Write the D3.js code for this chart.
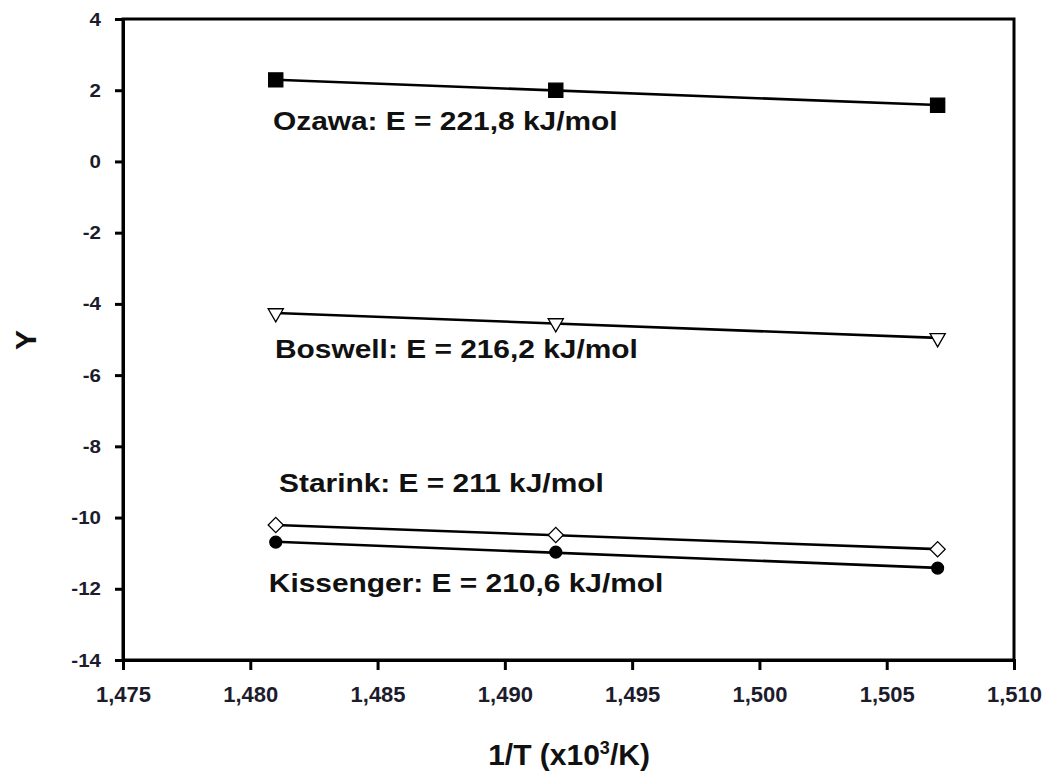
<!DOCTYPE html>
<html><head><meta charset="utf-8">
<script src="https://cdn.jsdelivr.net/npm/d3@7"></script>
<style>body{margin:0;background:#fff}svg{display:block}text{font-family:"Liberation Sans",Arial,sans-serif;font-weight:bold}</style>
</head><body><svg id="c" width="1052" height="776"></svg>
<script>
const xValues = [1.481, 1.492, 1.507];
const ozawa = [2.29, 2.0, 1.58];
const boswell = [-4.26, -4.54, -4.96];
const starink = [-10.21, -10.49, -10.89];
const kissenger = [-10.69, -10.97, -11.42];
const xTicks = [1.475, 1.480, 1.485, 1.490, 1.495, 1.500, 1.505, 1.510];
const yTicks = [4, 2, 0, -2, -4, -6, -8, -10, -12, -14];
const labels = ["Ozawa: E = 221,8 kJ/mol", "Boswell: E = 216,2 kJ/mol", "Starink: E = 211 kJ/mol", "Kissenger: E = 210,6 kJ/mol"];
const labelX = [1.48089, 1.48097, 1.48113, 1.48073];
const labelY = [0.88, -5.52, -9.28, -12.09];

const series = [
  {name: "Ozawa", y: ozawa, marker: "square"},
  {name: "Boswell", y: boswell, marker: "triangle"},
  {name: "Starink", y: starink, marker: "diamond"},
  {name: "Kissenger", y: kissenger, marker: "circle"}
];

const svg = d3.select("#c");
const m = {l: 123, r: 1014, t: 19, b: 660};
const x = d3.scaleLinear().domain([1.475, 1.510]).range([m.l, m.r]);
const y = d3.scaleLinear().domain([-14, 4]).range([m.b, m.t]);
const fmtX = v => d3.format(".3f")(v).replace(".", ",");

svg.append("rect").attr("x", m.l).attr("y", m.t).attr("width", m.r - m.l).attr("height", m.b - m.t)
  .attr("fill", "none").attr("stroke", "#000").attr("stroke-width", 3);

const xa = svg.append("g").attr("transform", `translate(0,${m.b})`)
  .call(d3.axisBottom(x).tickValues(xTicks).tickFormat(fmtX).tickSize(10).tickPadding(16));
const ya = svg.append("g").attr("transform", `translate(${m.l},0)`)
  .call(d3.axisLeft(y).tickValues(yTicks).tickFormat(d => d3.format("d")(d).replace("−", "-")).tickSize(8).tickPadding(14));
[xa, ya].forEach(a => {
  a.select(".domain").attr("stroke-width", 3);
  a.selectAll(".tick line").attr("stroke-width", 3);
  a.selectAll("text").attr("fill", "#1c1c2c").style("font-family", '"Liberation Sans",Arial,sans-serif').style("font-weight", "bold");
});
xa.selectAll("text").attr("font-size", 22);
ya.selectAll("text").attr("font-size", 19).attr("transform", "scale(1.08,1)").attr("x", -22/1.08*1.0 - 0.5);
ya.selectAll("text").attr("x", (-8 - 14) / 1.08);

// regression lines
series.forEach(s => {
  const mx = d3.mean(xValues), my = d3.mean(s.y);
  let sxy = 0, sxx = 0;
  xValues.forEach((xv, i) => { sxy += (xv - mx) * (s.y[i] - my); sxx += (xv - mx) ** 2; });
  const b = sxy / sxx, a0 = my - b * mx;
  const x0 = d3.min(xValues), x1 = d3.max(xValues);
  svg.append("line").attr("x1", x(x0)).attr("y1", y(a0 + b * x0)).attr("x2", x(x1)).attr("y2", y(a0 + b * x1))
    .attr("stroke", "#000").attr("stroke-width", 2.6);
});

// markers
const sym = {
  square: d3.symbol().type(d3.symbolSquare).size(200),
  triangle: d3.symbol().type(d3.symbolTriangle).size(100),
  diamond: d3.symbol().type(d3.symbolSquare).size(115),
  circle: d3.symbol().type(d3.symbolCircle).size(110)
};
series.forEach(s => {
  svg.append("g").selectAll("path").data(xValues).join("path")
    .attr("d", sym[s.marker])
    .attr("transform", (d, i) => `translate(${x(d)},${y(s.y[i])})` +
      (s.marker === "triangle" ? " rotate(180)" : s.marker === "diamond" ? " rotate(45)" : ""))
    .attr("fill", (s.marker === "square" || s.marker === "circle") ? "#000" : "#fff")
    .attr("stroke", "#000").attr("stroke-width", 1.3);
});

// annotations
svg.append("g").selectAll("text").data(labels).join("text")
  .attr("transform", (d, i) => `translate(${x(labelX[i])},${y(labelY[i])}) scale(1.15,1)`)
  .attr("font-size", 26).attr("fill", "#111").text(d => d);

// axis titles
const xt = svg.append("text").attr("x", 569).attr("y", 765).attr("text-anchor", "middle").attr("font-size", 30).attr("fill", "#111");
xt.append("tspan").text("1/T (x10");
xt.append("tspan").attr("dy", -11).attr("font-size", 18).text("3");
xt.append("tspan").attr("dy", 11).text("/K)");
svg.append("text").attr("transform", "translate(36,340) rotate(-90)").attr("text-anchor", "middle")
  .attr("font-size", 30).attr("fill", "#111").text("Y");
</script></body></html>
